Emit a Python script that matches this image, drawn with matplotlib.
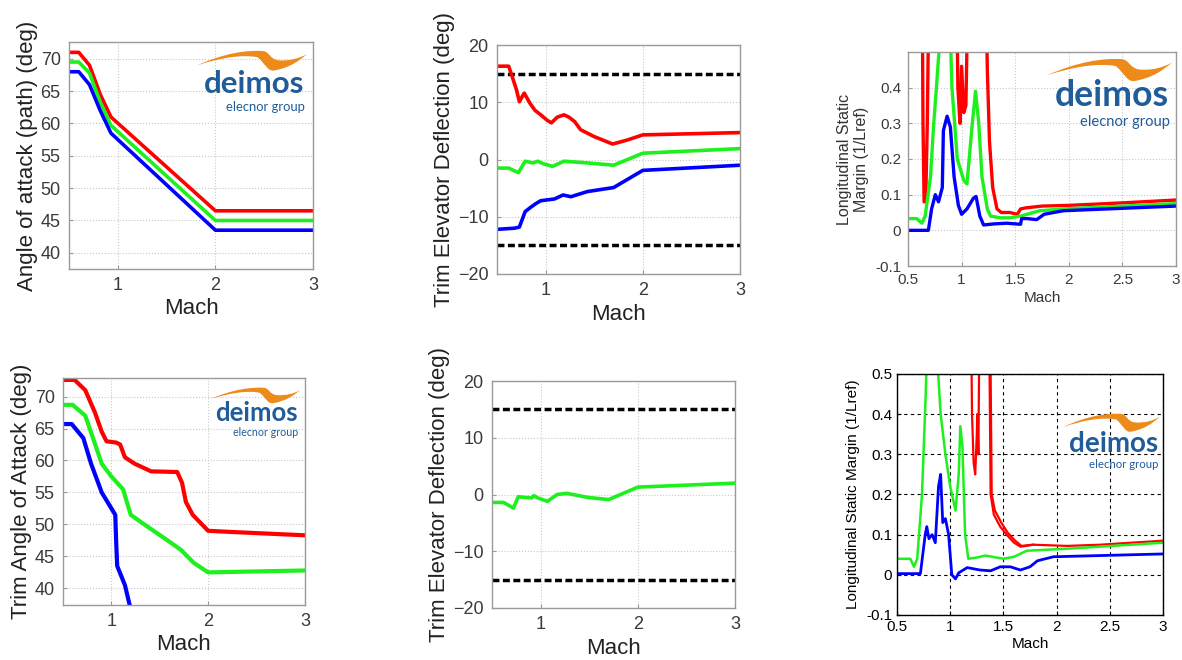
import matplotlib
matplotlib.use("Agg")
import matplotlib.pyplot as plt
from matplotlib.path import Path
from matplotlib.patches import PathPatch

plt.rcParams['font.family'] = ['Liberation Sans', 'DejaVu Sans']

W, H = 1182, 660

RED = '#ff0000'
GREEN = '#1ef01e'
BLUE = '#0000ff'
ORANGE = '#ec8a1a'
DEIMOS_BLUE = '#1f5c99'

# panel 1 - angle of attack (path)
aoa_mach = [0.5, 0.6, 0.71, 0.82, 0.93, 2.0, 3.0]
aoa_red = [71.0, 71.0, 69.0, 64.5, 61.0, 46.5, 46.5]
aoa_green = [69.5, 69.5, 67.8, 63.3, 59.7, 45.0, 45.0]
aoa_blue = [68.0, 68.0, 66.0, 62.0, 58.5, 43.5, 43.5]

# panel 2 - trim elevator deflection
elev_red_x = [0.5, 0.62, 0.65, 0.70, 0.73, 0.78, 0.84, 0.89, 0.95, 1.02, 1.06, 1.12, 1.19,
              1.24, 1.30, 1.36, 1.50, 1.69, 1.84, 2.0, 2.5, 3.0]
elev_red = [16.3, 16.3, 14.8, 12.2, 10.1, 11.6, 9.8, 8.6, 7.8, 6.8, 6.4, 7.4, 7.8,
            7.4, 6.6, 5.2, 4.0, 2.7, 3.4, 4.3, 4.5, 4.7]
elev_green_x = [0.5, 0.62, 0.72, 0.79, 0.87, 0.92, 0.97, 1.07, 1.19, 1.43, 1.70, 2.0, 3.0]
elev_green = [-1.5, -1.5, -2.3, -0.3, -0.6, -0.3, -0.7, -1.2, -0.3, -0.6, -1.0, 1.1, 1.9]
elev_blue_x = [0.5, 0.68, 0.73, 0.79, 0.85, 0.90, 0.95, 1.09, 1.18, 1.26, 1.43, 1.70, 2.0, 3.0]
elev_blue = [-12.2, -12.0, -11.8, -9.1, -8.3, -7.7, -7.2, -6.9, -6.2, -6.5, -5.6, -4.9, -1.9, -1.0]
elev_limits = [15, -15]

# panel 3 - longitudinal static margin
sm_red_x = [0.63, 0.64, 0.65, 0.665, 0.68, 0.70, 0.95, 0.965, 0.985, 1.0, 1.02, 1.04, 1.055,
            1.07, 1.10, 1.22, 1.24, 1.26, 1.29, 1.33, 1.37, 1.45, 1.52, 1.55, 1.60, 1.75,
            2.0, 2.5, 3.0]
sm_red = [0.8, 0.30, 0.08, 0.08, 0.30, 0.8, 0.8, 0.40, 0.30, 0.46, 0.33, 0.35, 0.60,
          0.8, 0.8, 0.8, 0.45, 0.25, 0.12, 0.06, 0.05, 0.05, 0.045, 0.06, 0.063, 0.068,
          0.07, 0.077, 0.085]
sm_green_x = [0.5, 0.58, 0.63, 0.66, 0.71, 0.74, 0.77, 0.80, 0.895, 0.91, 0.96, 1.02, 1.05,
              1.10, 1.13, 1.16, 1.19, 1.24, 1.27, 1.36, 1.45, 1.55, 1.73, 1.95, 3.0]
sm_green = [0.033, 0.033, 0.02, 0.04, 0.15, 0.30, 0.42, 0.55, 0.55, 0.40, 0.20, 0.14, 0.13,
            0.30, 0.39, 0.30, 0.15, 0.06, 0.04, 0.035, 0.035, 0.04, 0.055, 0.06, 0.075]
sm_blue_x = [0.5, 0.69, 0.72, 0.755, 0.785, 0.82, 0.83, 0.865, 0.895, 0.93, 0.97, 1.0, 1.05,
             1.11, 1.135, 1.17, 1.205, 1.30, 1.42, 1.55, 1.56, 1.61, 1.70, 1.77, 1.95, 3.0]
sm_blue = [0.0, 0.0, 0.06, 0.10, 0.08, 0.12, 0.28, 0.32, 0.29, 0.15, 0.07, 0.045, 0.06,
           0.09, 0.095, 0.04, 0.015, 0.018, 0.02, 0.017, 0.033, 0.033, 0.03, 0.045, 0.055, 0.068]

# panel 4 - trim angle of attack
taoa_red_x = [0.5, 0.62, 0.73, 0.83, 0.90, 0.95, 1.05, 1.09, 1.14, 1.24, 1.41, 1.68, 1.73,
              1.77, 1.84, 2.0, 2.27, 3.0]
taoa_red = [72.6, 72.6, 71.0, 67.5, 64.5, 63.0, 62.8, 62.5, 60.5, 59.5, 58.3, 58.2, 56.5,
            53.5, 51.5, 49.0, 48.8, 48.3]
taoa_green_x = [0.5, 0.6, 0.73, 0.81, 0.90, 1.0, 1.12, 1.2, 1.34, 1.58, 1.72, 1.85, 2.0, 3.0]
taoa_green = [68.7, 68.7, 67.0, 63.5, 59.5, 57.5, 55.5, 51.5, 50.0, 47.5, 46.0, 44.0, 42.5, 42.8]
taoa_blue_x = [0.5, 0.59, 0.71, 0.79, 0.90, 1.0, 1.04, 1.05, 1.06, 1.10, 1.14, 1.19, 1.22]
taoa_blue = [65.7, 65.7, 63.5, 59.5, 55.0, 52.5, 51.5, 47.0, 43.5, 42.0, 40.5, 37.3, 35.0]

# panel 5 - trim elevator deflection (green only)
elev2_green_x = [0.5, 0.62, 0.72, 0.77, 0.83, 0.91, 0.93, 0.97, 1.07, 1.17, 1.27, 1.48, 1.70, 2.0, 3.0]
elev2_green = [-1.4, -1.4, -2.4, -0.4, -0.5, -0.6, -0.2, -0.6, -1.2, 0.0, 0.2, -0.5, -0.9, 1.3, 2.0]

# panel 6 - longitudinal static margin
sm2_red_x = [1.19, 1.205, 1.22, 1.235, 1.25, 1.255, 1.265, 1.28, 1.36, 1.38, 1.41, 1.47,
             1.53, 1.60, 1.66, 1.78, 2.1, 2.41, 3.0]
sm2_red = [0.8, 0.40, 0.28, 0.25, 0.35, 0.40, 0.30, 0.8, 0.8, 0.20, 0.15, 0.12,
           0.10, 0.08, 0.07, 0.075, 0.072, 0.075, 0.085]
sm2_red_b_x = [1.37, 1.39, 1.42, 1.48, 1.54, 1.61, 1.67, 1.78]
sm2_red_b = [0.8, 0.20, 0.16, 0.13, 0.105, 0.085, 0.072, 0.075]
sm2_green_x = [0.5, 0.625, 0.66, 0.69, 0.735, 0.77, 0.78, 0.876, 0.91, 0.955, 1.0, 1.05,
               1.08, 1.095, 1.115, 1.14, 1.17, 1.25, 1.33, 1.5, 1.6, 1.72, 2.1, 3.0]
sm2_green = [0.04, 0.04, 0.02, 0.04, 0.20, 0.45, 0.55, 0.55, 0.40, 0.30, 0.22, 0.16,
             0.25, 0.37, 0.32, 0.10, 0.04, 0.043, 0.048, 0.04, 0.045, 0.06, 0.065, 0.08]
sm2_blue_x = [0.5, 0.72, 0.765, 0.78, 0.80, 0.83, 0.86, 0.89, 0.91, 0.93, 0.955, 0.985,
              1.015, 1.05, 1.08, 1.16, 1.28, 1.38, 1.47, 1.565, 1.66, 1.75, 1.82, 1.97, 3.0]
sm2_blue = [0.003, 0.003, 0.10, 0.12, 0.09, 0.10, 0.08, 0.22, 0.25, 0.13, 0.14, 0.10,
            0.0, -0.01, 0.005, 0.018, 0.012, 0.01, 0.02, 0.02, 0.012, 0.02, 0.035, 0.045, 0.052]


def axes_px(fig, x0, y0, x1, y1):
    return fig.add_axes([x0 / W, 1 - y1 / H, (x1 - x0) / W, (y1 - y0) / H])


def matlab_style(ax, tick_size, pad=3.5, frame='#9a9a9a', text='#3a3a3a',
                 grid_color='#c8c8c8', grid_ls=':'):
    for s in ax.spines.values():
        s.set_color(frame)
        s.set_linewidth(1.0)
    ax.tick_params(direction='in', length=3, colors=frame, labelcolor=text,
                   labelsize=tick_size, pad=pad)
    ax.grid(True, color=grid_color, linestyle=grid_ls, linewidth=0.8)
    ax.set_axisbelow(True)


def fit_text(fig, renderer, x, y, s, width, **kw):
    t = fig.text(x / W, 1 - y / H, s, fontsize=10, **kw)
    bb = t.get_window_extent(renderer)
    t.set_fontsize(10 * width / bb.width)
    return t


def draw_logo(fig, renderer, x0, y0, x1, y1):
    w = x1 - x0
    h = y1 - y0
    # orange swoosh on top of the logo box
    sw_top, sw_bot = y0, y0 + 0.36 * h
    pts = [(0.0, 0.25), (0.25, 0.85), (0.45, 1.0), (0.60, 0.95),
           (0.66, 0.92), (0.66, 0.55), (0.74, 0.50),
           (0.85, 0.45), (0.93, 0.60), (1.0, 0.80),
           (0.92, 0.45), (0.85, 0.15), (0.70, 0.0),
           (0.64, -0.05), (0.62, 0.35), (0.55, 0.65),
           (0.40, 0.80), (0.20, 0.60), (0.0, 0.25), (0.0, 0.25)]
    codes = [Path.MOVETO] + [Path.CURVE4] * 18 + [Path.CLOSEPOLY]
    verts = [((x0 + u * w) / W, 1 - (sw_bot - v * (sw_bot - sw_top)) / H) for u, v in pts]
    fig.add_artist(PathPatch(Path(verts, codes), transform=fig.transFigure,
                             facecolor=ORANGE, edgecolor='none'))
    fit_text(fig, renderer, x0 + 0.06 * w, y0 + 0.75 * h, 'deimos', 0.92 * w,
             family='Lato', fontweight='bold', color=DEIMOS_BLUE, va='baseline', ha='left')
    fit_text(fig, renderer, x1 - 0.02 * w, y0 + 0.89 * h, 'elecnor group', 0.72 * w,
             family='Lato', color=DEIMOS_BLUE, va='top', ha='right')


fig = plt.figure(figsize=(W / 100, H / 100), dpi=100)
renderer = fig.canvas.get_renderer()

# panel 1
ax1 = axes_px(fig, 69, 42, 313, 269)
ax1.plot(aoa_mach, aoa_red, color=RED, lw=2.6)
ax1.plot(aoa_mach, aoa_green, color=GREEN, lw=2.6)
ax1.plot(aoa_mach, aoa_blue, color=BLUE, lw=2.6)
ax1.set_xlim(0.5, 3)
ax1.set_ylim(37.5, 72.6)
ax1.set_xticks([1, 2, 3])
ax1.set_yticks([40, 45, 50, 55, 60, 65, 70])
matlab_style(ax1, 13, pad=6)
ax1.set_xlabel('Mach', fontsize=16, color='#222222', labelpad=3)
ax1.set_ylabel('Angle of attack (path) (deg)', fontsize=16, color='#222222', labelpad=2)

# panel 2
ax2 = axes_px(fig, 497, 45, 740, 274)
for lim in elev_limits:
    ax2.axhline(lim, color='black', lw=2.5, linestyle=(0, (2, 1)))
ax2.plot(elev_red_x, elev_red, color=RED, lw=2.6)
ax2.plot(elev_green_x, elev_green, color=GREEN, lw=2.6)
ax2.plot(elev_blue_x, elev_blue, color=BLUE, lw=2.6)
ax2.set_xlim(0.5, 3)
ax2.set_ylim(-20, 20)
ax2.set_xticks([1, 2, 3])
ax2.set_yticks([-20, -10, 0, 10, 20])
matlab_style(ax2, 13, pad=6)
ax2.set_xlabel('Mach', fontsize=16, color='#222222', labelpad=3)
ax2.set_ylabel('Trim Elevator Deflection (deg)', fontsize=16, color='#222222', labelpad=2)

# panel 3
ax3 = axes_px(fig, 908, 52, 1176, 266)
ax3.plot(sm_red_x, sm_red, color=RED, lw=2.4)
ax3.plot(sm_green_x, sm_green, color=GREEN, lw=2.4)
ax3.plot(sm_blue_x, sm_blue, color=BLUE, lw=2.4)
ax3.set_xlim(0.5, 3)
ax3.set_ylim(-0.1, 0.5)
ax3.set_xticks([0.5, 1, 1.5, 2, 2.5, 3])
ax3.set_xticklabels(['0.5', '1', '1.5', '2', '2.5', '3'])
ax3.set_yticks([-0.1, 0, 0.1, 0.2, 0.3, 0.4])
ax3.set_yticklabels(['-0.1', '0', '0.1', '0.2', '0.3', '0.4'])
matlab_style(ax3, 11, pad=5)
ax3.set_xlabel('Mach', fontsize=11, color='#333333', labelpad=3)
ax3.set_ylabel('Longitudinal Static\nMargin (1/Lref)', fontsize=11.5, color='#333333')

# panel 4
ax4 = axes_px(fig, 63, 378, 305, 605)
ax4.plot(taoa_red_x, taoa_red, color=RED, lw=3.0)
ax4.plot(taoa_green_x, taoa_green, color=GREEN, lw=3.0)
ax4.plot(taoa_blue_x, taoa_blue, color=BLUE, lw=3.0)
ax4.set_xlim(0.5, 3)
ax4.set_ylim(37.4, 72.9)
ax4.set_xticks([1, 2, 3])
ax4.set_yticks([40, 45, 50, 55, 60, 65, 70])
matlab_style(ax4, 13, pad=6)
ax4.set_xlabel('Mach', fontsize=16, color='#222222', labelpad=3)
ax4.set_ylabel('Trim Angle of Attack (deg)', fontsize=16, color='#222222', labelpad=2)

# panel 5
ax5 = axes_px(fig, 492, 381, 735, 608)
for lim in elev_limits:
    ax5.axhline(lim, color='black', lw=2.5, linestyle=(0, (2, 1)))
ax5.plot(elev2_green_x, elev2_green, color=GREEN, lw=2.6)
ax5.set_xlim(0.5, 3)
ax5.set_ylim(-20, 20)
ax5.set_xticks([1, 2, 3])
ax5.set_yticks([-20, -10, 0, 10, 20])
matlab_style(ax5, 13, pad=6)
ax5.set_xlabel('Mach', fontsize=16, color='#222222', labelpad=3)
ax5.set_ylabel('Trim Elevator Deflection (deg)', fontsize=16, color='#222222', labelpad=2)

# panel 6
ax6 = axes_px(fig, 897, 374, 1163, 615)
ax6.plot(sm2_red_x, sm2_red, color=RED, lw=1.6)
ax6.plot(sm2_red_b_x, sm2_red_b, color=RED, lw=1.6)
ax6.plot(sm2_green_x, sm2_green, color=GREEN, lw=1.8)
ax6.plot(sm2_blue_x, sm2_blue, color=BLUE, lw=2.0)
ax6.set_xlim(0.5, 3)
ax6.set_ylim(-0.1, 0.5)
ax6.set_xticks([0.5, 1, 1.5, 2, 2.5, 3])
ax6.set_xticklabels(['0.5', '1', '1.5', '2', '2.5', '3'])
ax6.set_yticks([-0.1, 0, 0.1, 0.2, 0.3, 0.4, 0.5])
ax6.set_yticklabels(['-0.1', '0', '0.1', '0.2', '0.3', '0.4', '0.5'])
matlab_style(ax6, 11, frame='black', text='black', grid_color='black', grid_ls=(0, (3, 3)))
ax6.set_xlabel('Mach', fontsize=11, color='black', labelpad=2)
ax6.set_ylabel('Longitudinal Static Margin (1/Lref)', fontsize=11, color='black')

# logos
draw_logo(fig, renderer, 197, 50, 307, 107)
draw_logo(fig, renderer, 1047, 58, 1172, 122)
draw_logo(fig, renderer, 210, 387, 300, 432)
draw_logo(fig, renderer, 1063, 413, 1160, 465)

fig.savefig('out.png', dpi=100)
